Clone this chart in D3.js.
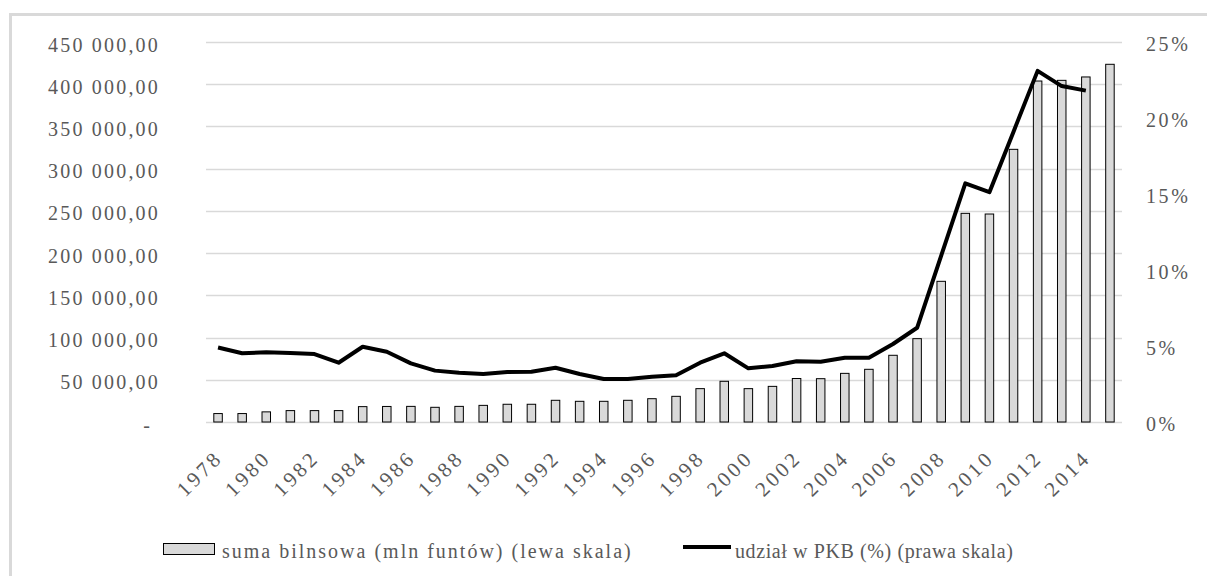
<!DOCTYPE html>
<html>
<head>
<meta charset="utf-8">
<script src="https://cdn.jsdelivr.net/npm/d3@7/dist/d3.min.js"></script>
<style>
  html, body { margin: 0; padding: 0; background: #fff; }
  svg { display: block; }
  text { font-family: "Liberation Serif", "Times New Roman", serif; fill: #595959; }
</style>
</head>
<body>
<svg id="chart" width="1207" height="576"></svg>
<script>
// ---- DATA ----
const years = [1978,1979,1980,1981,1982,1983,1984,1985,1986,1987,1988,1989,1990,1991,1992,1993,1994,1995,1996,1997,1998,1999,2000,2001,2002,2003,2004,2005,2006,2007,2008,2009,2010,2011,2012,2013,2014,2015];
// suma bilansowa (mln funtów) – left scale
const balance = [10000,10000,12000,13500,13500,13500,18200,18400,18500,17400,18500,19700,21000,21000,25700,24500,24500,25700,27600,30400,39500,48200,39500,42200,51500,51300,57600,62400,79000,98700,166600,247100,246300,322900,403800,404600,408600,423600];
// udział w PKB (%) – right scale (no value for 2015)
const gdpShare = [4.9,4.52,4.59,4.54,4.47,3.9,4.95,4.62,3.86,3.38,3.24,3.16,3.29,3.31,3.57,3.16,2.83,2.83,2.98,3.07,3.9,4.52,3.53,3.68,4.0,3.97,4.23,4.23,5.13,6.2,10.95,15.7,15.12,19.1,23.1,22.1,21.8,null];
const leftTicks = [0,50000,100000,150000,200000,250000,300000,350000,400000,450000];
const leftTickLabels = ["-","50 000,00","100 000,00","150 000,00","200 000,00","250 000,00","300 000,00","350 000,00","400 000,00","450 000,00"];
const rightTicks = [0,5,10,15,20,25];
const rightTickLabels = ["0%","5%","10%","15%","20%","25%"];
const legendLabels = ["suma bilnsowa (mln funtów) (lewa skala)", "udział w PKB (%) (prawa skala)"];

// ---- LAYOUT ----
const svg = d3.select("#chart");
const plot = {left: 206, right: 1122, top: 42, bottom: 422};

// outer frame (only top/left visible in the crop)
svg.append("rect").attr("x", 10.5).attr("y", 14.5).attr("width", 1240).attr("height", 600)
  .attr("fill", "none").attr("stroke", "#d9d9d9").attr("stroke-width", 3);

const x = d3.scaleBand().domain(years).range([plot.left, plot.right]).padding(0);
const yL = d3.scaleLinear().domain([0, 450000]).range([plot.bottom, plot.top]);
const yR = d3.scaleLinear().domain([0, 25]).range([plot.bottom, plot.top]);

// gridlines
svg.append("g").selectAll("line").data(leftTicks).join("line")
  .attr("x1", plot.left).attr("x2", plot.right)
  .attr("y1", d => Math.round(yL(d)) + 0.5).attr("y2", d => Math.round(yL(d)) + 0.5)
  .attr("stroke", "#d9d9d9").attr("stroke-width", 1.3);

// left axis labels
const leftAxis = d3.axisLeft(yL).tickValues(leftTicks).tickSize(0)
  .tickFormat((d, i) => leftTickLabels[i]);
const gl = svg.append("g").attr("transform", "translate(160,0)").call(leftAxis);
gl.select(".domain").remove();
gl.selectAll("text").attr("x", 0).attr("dy", null).attr("dominant-baseline", "auto")
  .attr("y", 9).attr("text-anchor", "end")
  .style("font-size", "20px").style("letter-spacing", "2.2px")
  .style("font-family", "'Liberation Serif', serif").attr("fill", "#595959");
gl.selectAll("text").filter((d) => d === 0).attr("x", -8);

// right axis labels
const rightAxis = d3.axisRight(yR).tickValues(rightTicks).tickSize(0)
  .tickFormat((d, i) => rightTickLabels[i]);
const gr = svg.append("g").attr("transform", "translate(1146,0)").call(rightAxis);
gr.select(".domain").remove();
gr.selectAll("text").attr("x", 0).attr("dy", null).attr("y", 8).attr("text-anchor", "start")
  .style("font-size", "20px").style("letter-spacing", "2.6px")
  .style("font-family", "'Liberation Serif', serif").attr("fill", "#595959");

// bars
const barW = 8.5;
svg.append("g").selectAll("rect").data(years).join("rect")
  .attr("x", (d) => x(d) + x.bandwidth() / 2 - barW / 2)
  .attr("y", (d, i) => yL(balance[i]))
  .attr("width", barW)
  .attr("height", (d, i) => yL(0) - yL(balance[i]))
  .attr("fill", "#d9d9d9").attr("stroke", "#000").attr("stroke-width", 1);

// line
const line = d3.line()
  .defined(d => d.v !== null)
  .x(d => x(d.y) + x.bandwidth() / 2)
  .y(d => yR(d.v));
svg.append("path")
  .datum(years.map((y, i) => ({y: y, v: gdpShare[i]})))
  .attr("d", line).attr("fill", "none").attr("stroke", "#000")
  .attr("stroke-width", 4).attr("stroke-linejoin", "round");

// x axis labels (every other year)
const xAxis = d3.axisBottom(x).tickValues(years.filter((d, i) => i % 2 === 0)).tickSize(0);
const gx = svg.append("g").attr("transform", `translate(0,${plot.bottom})`).call(xAxis);
gx.select(".domain").remove();
gx.selectAll("text")
  .attr("x", 0).attr("y", 0).attr("dy", null)
  .attr("text-anchor", "end")
  .attr("transform", "translate(6,37) rotate(-45)")
  .style("font-size", "21px").style("letter-spacing", "3.2px")
  .style("font-family", "'Liberation Serif', serif").attr("fill", "#595959");

// legend
const lg = svg.append("g");
lg.append("rect").attr("x", 163.5).attr("y", 543.5).attr("width", 51).attr("height", 11)
  .attr("fill", "#d9d9d9").attr("stroke", "#000").attr("stroke-width", 1);
lg.append("text").attr("x", 222).attr("y", 558).text(legendLabels[0])
  .style("font-size", "20px").style("letter-spacing", "2px");
lg.append("line").attr("x1", 683).attr("x2", 731).attr("y1", 547).attr("y2", 547)
  .attr("stroke", "#000").attr("stroke-width", 4);
lg.append("text").attr("x", 735).attr("y", 558).text(legendLabels[1])
  .style("font-size", "20px").style("letter-spacing", "0.6px");
</script>
</body>
</html>
